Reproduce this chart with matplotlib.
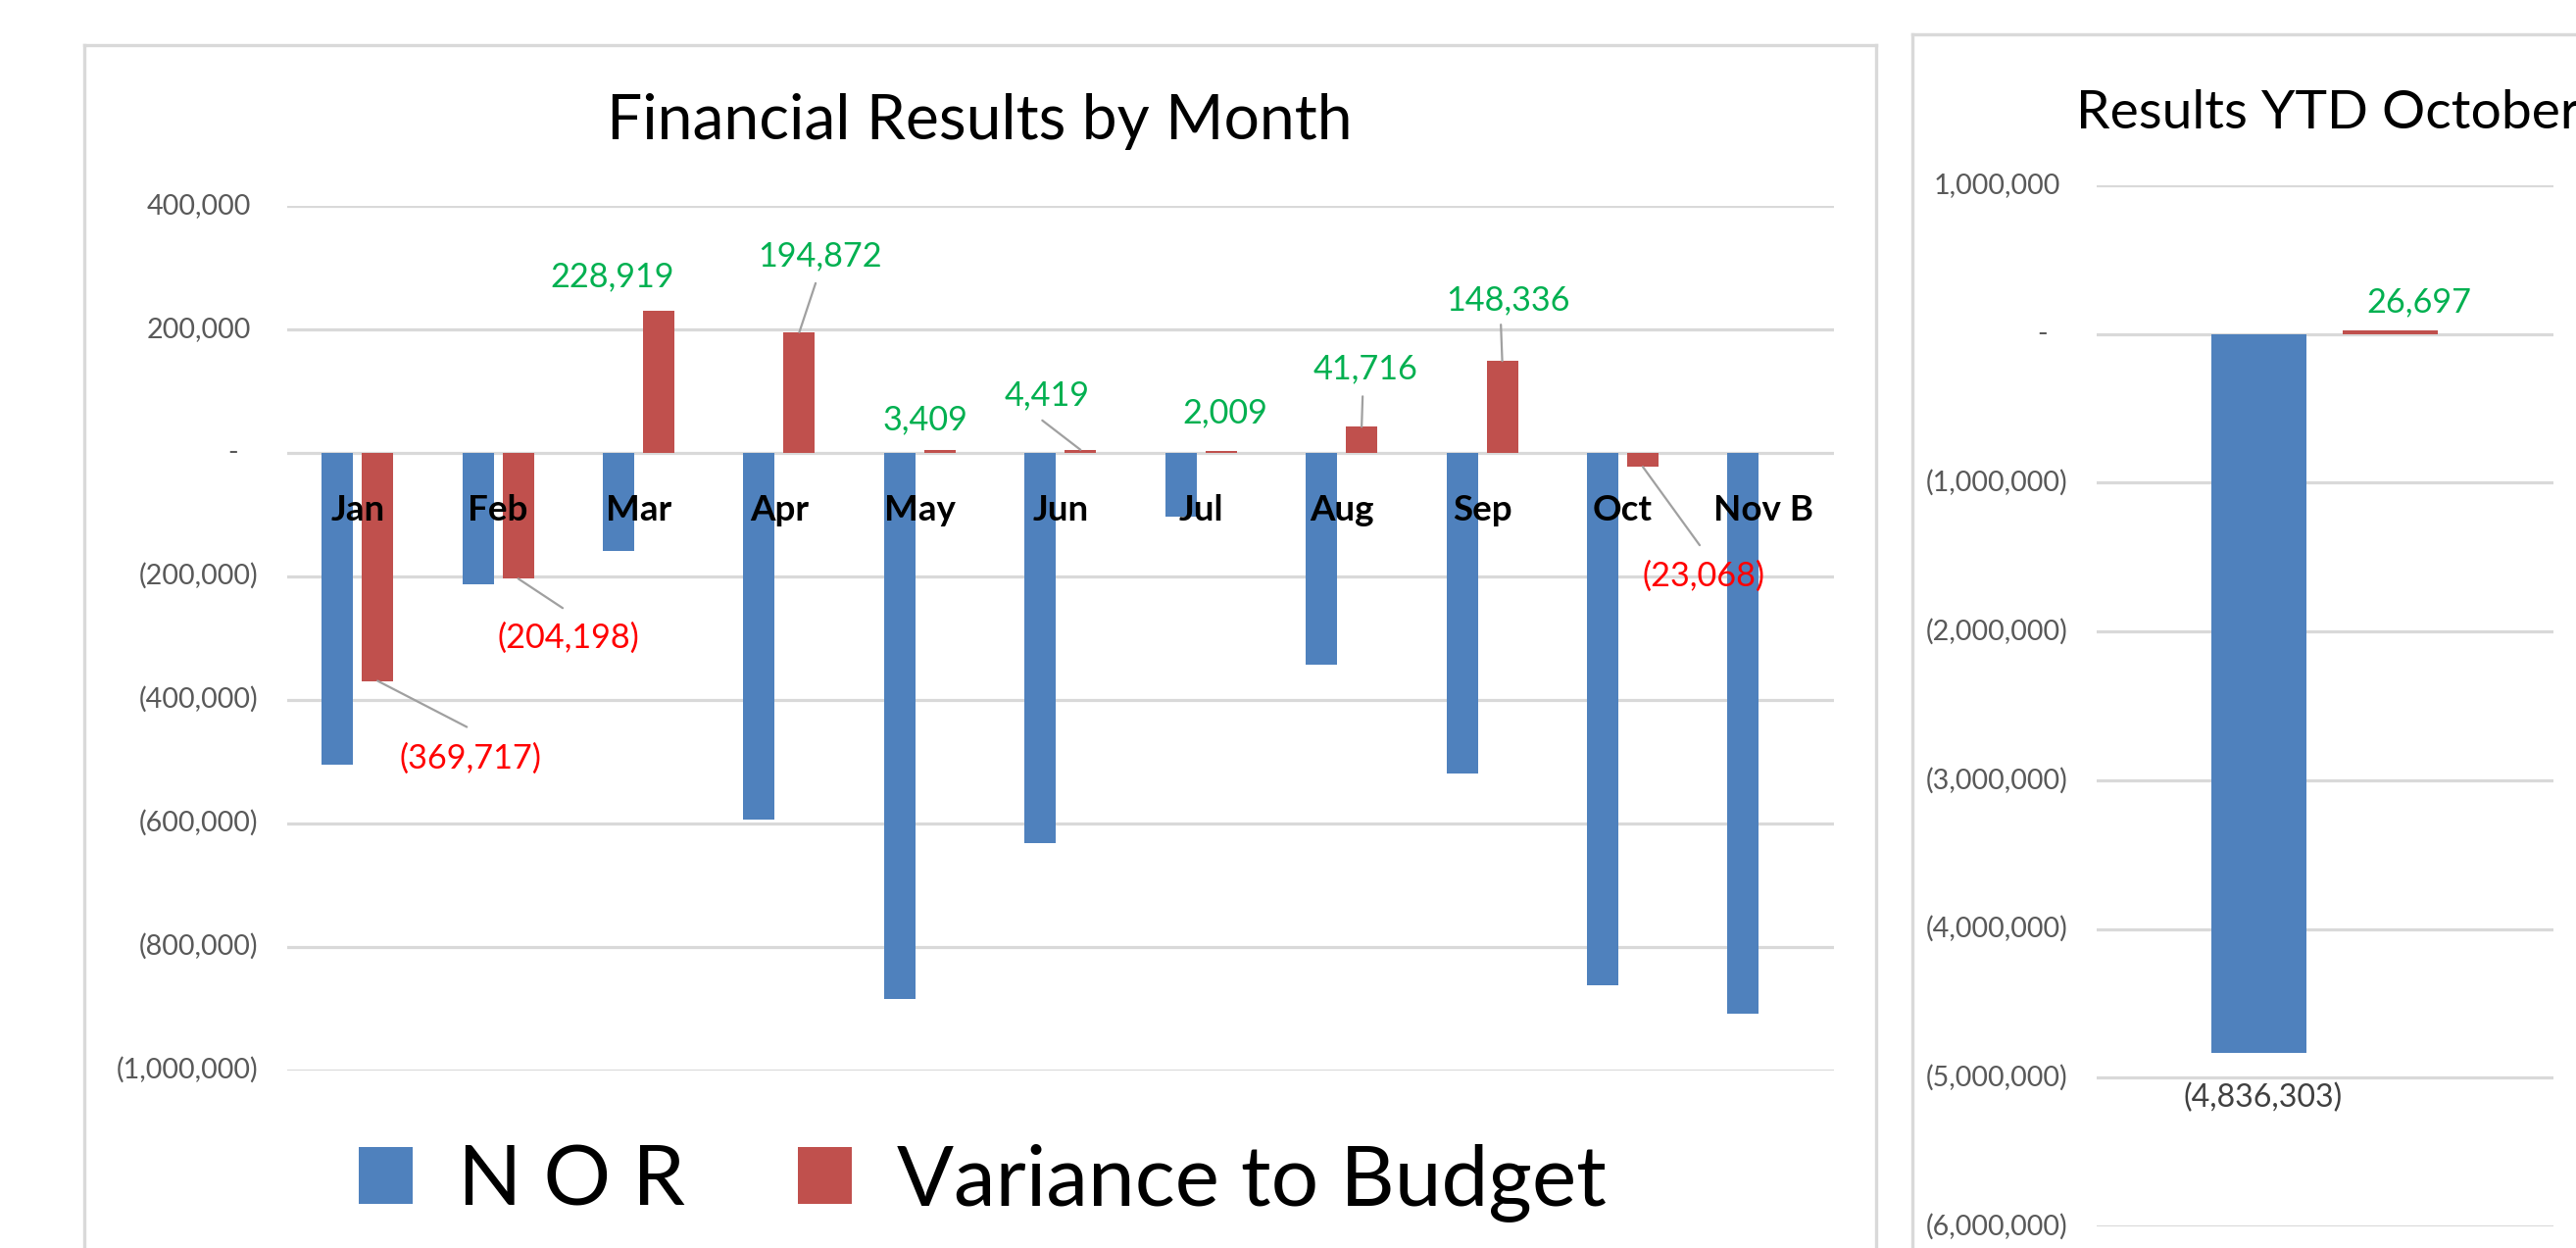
import numpy as np
import matplotlib
matplotlib.use("Agg")
import matplotlib.pyplot as plt
from matplotlib.transforms import ScaledTranslation
from matplotlib.lines import Line2D

# ---------------- data ----------------
months = ["Jan", "Feb", "Mar", "Apr", "May", "Jun", "Jul", "Aug", "Sep", "Oct", "Nov B"]
nor = [-505000, -213000, -159000, -595000, -885000, -633000, -104000, -343000, -520000, -863000, -909000]
variance = [-369717, -204198, 228919, 194872, 3409, 4419, 2009, 41716, 148336, -23068, None]
left_ticks = [400000, 200000, 0, -200000, -400000, -600000, -800000, -1000000]

ytd_nor = -4836303
ytd_variance = 26697
right_ticks = [1000000, 0, -1000000, -2000000, -3000000, -4000000, -5000000, -6000000]

series_names = ["N O R", "Variance to Budget"]
left_title = "Financial Results by Month"
right_title = "Results YTD October"

# ---------------- style ----------------
BLUE = "#4F81BD"
RED = "#C0504D"
GREEN = "#00B050"
NEGRED = "#FF0000"
GRID = "#D9D9D9"
TICK = "#595959"
LEADER = "#A0A0A0"
FONT = "Lato"

W, H, DPI = 2628, 1273, 100
plt.rcParams["font.family"] = [FONT, "DejaVu Sans"]

fig = plt.figure(figsize=(W / DPI, H / DPI), dpi=DPI)
fig.patch.set_facecolor("white")
renderer = fig.canvas.get_renderer()


def fit_size(text, target_px, weight="normal"):
    t = fig.text(0, 0, text, fontsize=100, weight=weight)
    w = t.get_window_extent(renderer).width
    t.remove()
    return 100.0 * target_px / w


def fmt(v):
    if v > 0:
        return f"{v:,}"
    if v < 0:
        return f"({-v:,})"
    return "-"


def px(x, y, w, h):
    """pixel box (top-left origin) -> figure fraction rect"""
    return [x / W, (H - y - h) / H, w / W, h / H]


tick_size = fit_size("(1,000,000)", 145)
label_size = fit_size("228,919", 127)
month_size = fit_size("Nov B", 102, weight="bold")
title_size = fit_size(left_title, 761)
rtitle_size = fit_size("Results YTD Octobe", 495)
legend_size = fit_size("Variance to Budget", 725)
ytd_neg_size = fit_size("(4,836,303)", 162)

# ---------------- chart frames ----------------
def fline(xs, ys):
    fig.add_artist(Line2D([x / W for x in xs], [(H - y) / H for y in ys],
                          color=GRID, lw=2.4, transform=fig.transFigure))

fline([86, 86], [H, 46])
fline([86, 1913.5], [46, 46])
fline([1913.5, 1913.5], [46, H])
fline([1951.5, 1951.5], [H, 35])
fline([1951.5, W], [35, 35])


def style_axes(ax, ticks):
    ax.set_yticks(ticks)
    ax.yaxis.grid(True, color=GRID, lw=2.3)
    ax.set_axisbelow(True)
    ax.tick_params(length=0, labelleft=False, labelbottom=False)
    ax.set_xticks([])
    for s in ax.spines.values():
        s.set_visible(False)
    ax.patch.set_alpha(0)
    for v in ticks:
        dx = 37 if v > 0 else (30 if v < 0 else 50)
        tr = ax.get_yaxis_transform() + ScaledTranslation(-dx / DPI, 0, fig.dpi_scale_trans)
        ax.text(0, v, fmt(v), transform=tr, ha="right", va="center",
                fontsize=tick_size, color=TICK)


# ---------------- left chart ----------------
ax = fig.add_axes(px(293, 209.6, 1577.6, 882))
n = len(months)
x = np.arange(n)
bw = 0.223
off = 0.143
ax.set_xlim(-0.5, n - 0.5)
ax.set_ylim(min(left_ticks), max(left_ticks))
style_axes(ax, left_ticks)

b1 = ax.bar(x - off, nor, width=bw, color=BLUE, label=series_names[0], zorder=3)
vx = [x[i] + off for i in range(n) if variance[i] is not None]
vv = [variance[i] for i in range(n) if variance[i] is not None]
b2 = ax.bar(vx, vv, width=bw, color=RED, label=series_names[1], zorder=3)

for i, name in enumerate(months):
    tr = ax.transData + ScaledTranslation(0, -69 / DPI, fig.dpi_scale_trans)
    ax.text(x[i], 0, name, transform=tr, ha="center", va="baseline",
            fontsize=month_size, weight="bold", color="black", zorder=5)

# label offsets in pixels (dx right, dy down), optional leader end
var_label_offsets = [
    (95, 79.5, (91, 47)),
    (51, 61, (45.4, 30)),
    (-47, -35, None),
    (20.6, -78, (16.6, -50)),
    (-15, -31, None),
    (-34, -56, (-39, -30)),
    (4.4, -38.7, None),
    (4, -59, (1, -31)),
    (5.6, -62, (-1.4, -37)),
    (62, 112, (58, 80)),
    None,
]
for i in range(n):
    v = variance[i]
    if v is None:
        continue
    dx, dy, lead = var_label_offsets[i]
    col = GREEN if v > 0 else NEGRED
    ax.annotate(fmt(v), xy=(x[i] + off, v), xycoords="data",
                xytext=(dx, -dy), textcoords="offset pixels",
                ha="center", va="center", fontsize=label_size, color=col, zorder=6)
    if lead is not None:
        ax.annotate("", xy=(x[i] + off, v), xycoords="data",
                    xytext=(lead[0], -lead[1]), textcoords="offset pixels",
                    arrowprops=dict(arrowstyle="-", color=LEADER, lw=1.6,
                                    shrinkA=0, shrinkB=0), zorder=4)

L = legend_size * DPI / 72.0
leg = fig.legend(handles=[b1, b2], labels=series_names, ncol=2, frameon=False,
                 loc="center left", bbox_to_anchor=(366 / W, 67 / H),
                 fontsize=legend_size, handlelength=55 / L, handleheight=57 / L,
                 handletextpad=46 / L, columnspacing=115 / L,
                 borderpad=0, borderaxespad=0)

fig.text(999 / W, (H - 141.6) / H, left_title, ha="center", va="baseline",
         fontsize=title_size, color="black")

# ---------------- right chart ----------------
ax2 = fig.add_axes(px(2139, 189.1, 466, 1061.9))
ax2.set_xlim(-0.5, 0.5)
ax2.set_ylim(min(right_ticks), max(right_ticks))
style_axes(ax2, right_ticks)
ax2.bar([-0.145], [ytd_nor], width=0.208, color=BLUE, zorder=3)
ax2.bar([0.143], [ytd_variance], width=0.208, color=RED, zorder=3)
ax2.annotate(fmt(ytd_variance), xy=(0.143, ytd_variance), xytext=(29.5, 28),
             textcoords="offset pixels", ha="center", va="center",
             fontsize=label_size, color=GREEN)
ax2.annotate(fmt(ytd_nor), xy=(-0.145, ytd_nor), xytext=(4.5, -45),
             textcoords="offset pixels", ha="center", va="center",
             fontsize=ytd_neg_size, color="#404040")

fig.text(2118 / W, (H - 131.4) / H, right_title, ha="left", va="baseline",
         fontsize=rtitle_size, color="black")

fig.savefig("out.png", dpi=DPI, facecolor="white")
